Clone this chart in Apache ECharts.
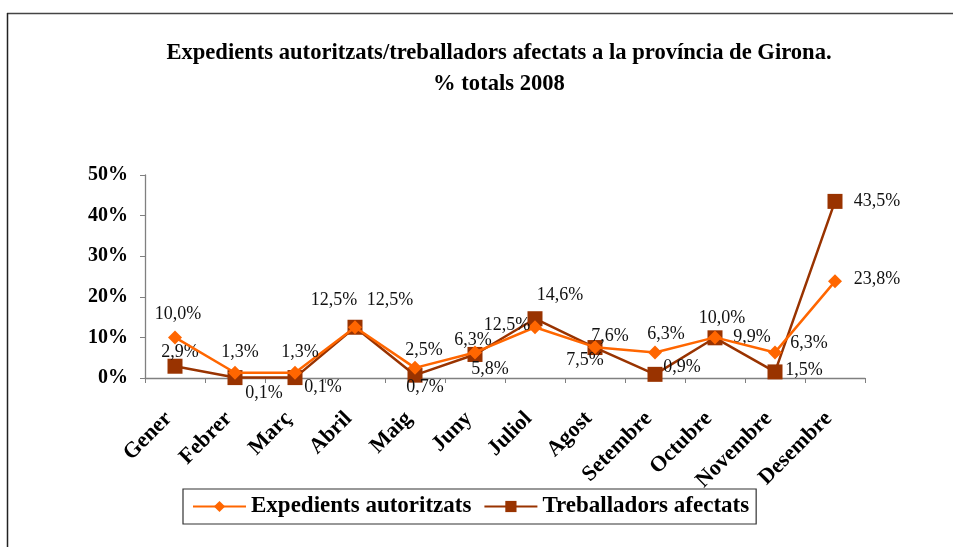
<!DOCTYPE html>
<html><head><meta charset="utf-8">
<script src="https://cdn.jsdelivr.net/npm/echarts@6/dist/echarts.min.js"></script>
<style>html,body{margin:0;padding:0;background:#fff}#c{width:953px;height:547px}</style>
</head><body><div id="c"></div>
<script>
const categories = ['Gener','Febrer','Març','Abril','Maig','Juny','Juliol','Agost','Setembre','Octubre','Novembre','Desembre'];
const expedients = [10.0, 1.3, 1.3, 12.5, 2.5, 6.3, 12.5, 7.6, 6.3, 10.0, 6.3, 23.8];
const treballadors = [2.9, 0.1, 0.1, 12.5, 0.7, 5.8, 14.6, 7.5, 0.9, 9.9, 1.5, 43.5];
const yTicks = [0, 10, 20, 30, 40, 50];
const seriesNames = ['Expedients autoritzats', 'Treballadors afectats'];
const titleText = 'Expedients autoritzats/treballadors afectats a la província de Girona.\n% totals 2008';

// label offsets (layout only)
const expOffsets = [[3,-23],[5,-20],[5,-20],[-21,-27],[9,-18],[-2,-12],[-28,-2],[15,-11],[11,-18],[7,-19],[34,-9],[42,-2]];
const trbOffsets = [[5,-14],[29,16],[28,10],[35,-27],[10,12],[15,15],[25,-23],[-10,13],[27,-7],[37,-1],[29,-2],[42,0]];

const serif = '"Liberation Serif", "DejaVu Serif", serif';
const fmt = v => v.toFixed(1).replace('.', ',') + '%';

function build(values, offsets) {
  return values.map((v, i) => ({
    value: v,
    label: { show: true, position: 'inside', offset: offsets[i], formatter: fmt(v) }
  }));
}

const chart = echarts.init(document.getElementById('c'), null, {renderer: 'canvas'});
chart.setOption({
  animation: false,
  backgroundColor: '#fff',
  title: {
    text: titleText, left: 494, textAlign: 'center', top: 33,
    textStyle: { fontFamily: serif, fontWeight: 'bold', fontSize: 22.6, lineHeight: 31, color: '#000' }
  },
  graphic: [
    { type: 'line', shape: {x1: 7, y1: 13.5, x2: 953, y2: 13.5}, style: {stroke: '#444', lineWidth: 1.5} },
    { type: 'line', shape: {x1: 7.5, y1: 13, x2: 7.5, y2: 547}, style: {stroke: '#222', lineWidth: 1.5} }
  ],
  grid: { left: 145, right: 88, top: 175, bottom: 169, containLabel: false },
  legend: {
    data: seriesNames, left: 183, top: 489,
    itemWidth: 53, itemHeight: 14, itemGap: 12,
    padding: [6, 7, 6, 9],
    borderColor: '#333', borderWidth: 1.2, backgroundColor: '#fff',
    textStyle: { fontFamily: serif, fontWeight: 'bold', fontSize: 23, lineHeight: 22, color: '#000' }
  },
  xAxis: {
    type: 'category', data: categories, boundaryGap: true,
    axisLine: { lineStyle: { color: '#808080', width: 1.3 } },
    axisTick: { show: true, length: 5, inside: false, lineStyle: { color: '#808080' } },
    axisLabel: { rotate: 45, margin: 31, padding: [0, 9, 0, 0], interval: 0, fontFamily: serif, fontWeight: 'bold', fontSize: 22, color: '#000' }
  },
  yAxis: {
    type: 'value', min: yTicks[0], max: yTicks[yTicks.length - 1], interval: yTicks[1] - yTicks[0],
    axisLine: { show: true, lineStyle: { color: '#808080', width: 1.3 } },
    axisTick: { show: true, length: 5, lineStyle: { color: '#808080' } },
    splitLine: { show: false },
    axisLabel: { margin: 17, fontFamily: serif, fontWeight: 'bold', fontSize: 20, color: '#000', formatter: v => v + '%' }
  },
  series: [
    {
      name: seriesNames[0], type: 'line', data: build(expedients, expOffsets),
      symbol: 'diamond', symbolSize: 14,
      lineStyle: { color: '#FF6600', width: 2.5 },
      itemStyle: { color: '#FF6600' },
      label: { fontFamily: serif, fontSize: 18, color: '#111' },
      z: 3
    },
    {
      name: seriesNames[1], type: 'line', data: build(treballadors, trbOffsets),
      symbol: 'rect', symbolSize: 15,
      lineStyle: { color: '#993300', width: 2.5 },
      itemStyle: { color: '#993300' },
      label: { fontFamily: serif, fontSize: 18, color: '#111' },
      z: 2
    }
  ]
});
</script>
</body></html>
